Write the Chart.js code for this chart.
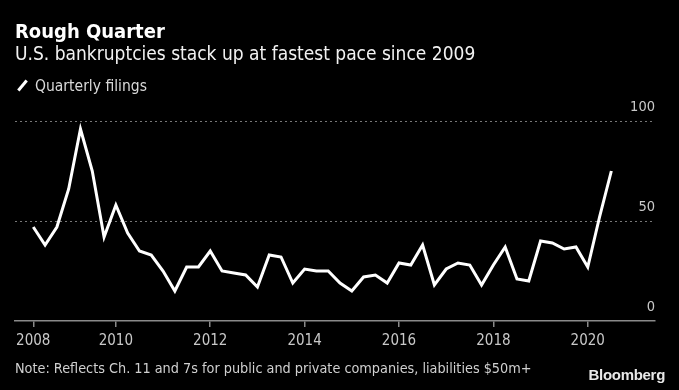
<!DOCTYPE html>
<html>
<head>
<meta charset="utf-8">
<script src="https://cdn.jsdelivr.net/npm/chart.js@4"></script>
<style>
  html, body {
    margin: 0;
    padding: 0;
    background: #000;
  }
  .wrap {
    position: relative;
    width: 679px;
    height: 390px;
    background: #000;
    overflow: hidden;
    font-family: "DejaVu Sans Condensed", "DejaVu Sans", sans-serif;
  }
  .wrap canvas {
    position: absolute;
    left: 0;
    top: 0;
  }
  .title {
    position: absolute;
    left: 15px;
    top: 19px;
    font-size: 20px;
    font-weight: bold;
    color: #fff;
  }
  .subtitle {
    position: absolute;
    left: 15px;
    top: 42px;
    font-size: 19px;
    color: #f2f2f2;
  }
  .legend {
    position: absolute;
    left: 16px;
    top: 77px;
    font-size: 15.5px;
    color: #d9d9d9;
  }
  .legend .swatch {
    display: inline-block;
    width: 3px;
    height: 13px;
    background: #fff;
    transform: rotate(40deg);
    margin: 0 11px 0 5px;
    vertical-align: -1px;
  }
  .note {
    position: absolute;
    left: 15px;
    top: 360px;
    font-size: 14.3px;
    color: #d0d0d0;
  }
  .brand {
    position: absolute;
    right: 14px;
    top: 366px;
    font-family: "Liberation Sans", Arial, sans-serif;
    font-size: 15px;
    font-weight: bold;
    color: #e8e8e8;
    letter-spacing: -0.3px;
  }
</style>
</head>
<body>
<div class="wrap">
  <canvas id="chart" width="679" height="390"></canvas>
  <div class="title">Rough Quarter</div>
  <div class="subtitle">U.S. bankruptcies stack up at fastest pace since 2009</div>
  <div class="legend"><span class="swatch"></span>Quarterly filings</div>
  <div class="note">Note: Reflects Ch. 11 and 7s for public and private companies, liabilities $50m+</div>
  <div class="brand">Bloomberg</div>
</div>
<script>
// quarterly filings, 2008 Q1 .. 2020 Q2
const filings = [
  47, 38, 47, 66, 96, 75, 42, 58,   // 2008-2009
  44, 35, 33, 25, 15, 27, 27, 35,   // 2010-2011
  25, 24, 23, 17, 33, 32, 19, 26,   // 2012-2013
  25, 25, 19, 15, 22, 23, 19, 29,   // 2014-2015
  28, 38, 18, 26, 29, 28, 18, 28,   // 2016-2017
  37, 21, 20, 40, 39, 36, 37, 27,   // 2018-2019
  52, 75                            // 2020
];

// year ticks sit at quarter positions
const yearTickPos = [0, 7, 15, 23, 31, 39, 47];
const yearTickLabels = ['2008', '2010', '2012', '2014', '2016', '2018', '2020'];

const yTicks = [0, 50, 100];

const gridGray = '#8a8a8a';
const labelGray = '#c8c8c8';
const fontFamily = '"DejaVu Sans Condensed", "DejaVu Sans", sans-serif';

const ctx = document.getElementById('chart').getContext('2d');

new Chart(ctx, {
  type: 'line',
  data: {
    datasets: [{
      label: 'Quarterly filings',
      data: filings.map((v, i) => ({ x: i, y: v })),
      borderColor: '#ffffff',
      borderWidth: 3,
      pointRadius: 0,
      tension: 0,
      fill: false,
      borderJoinStyle: 'miter'
    }]
  },
  options: {
    responsive: false,
    animation: false,
    events: [],
    layout: {
      padding: { left: 15, right: 24, top: 121, bottom: 39 }
    },
    plugins: {
      legend: { display: false },
      tooltip: { enabled: false }
    },
    scales: {
      x: {
        type: 'linear',
        min: -1.55,
        max: 52.7,
        afterBuildTicks: (scale) => {
          scale.ticks = yearTickPos.map(v => ({ value: v }));
        },
        afterFit: (scale) => {
          scale.height = 30;
        },
        grid: {
          drawOnChartArea: false,
          drawTicks: true,
          tickLength: 6,
          color: gridGray,
          lineWidth: 1.5
        },
        border: {
          display: true,
          color: gridGray,
          width: 1.5
        },
        ticks: {
          autoSkip: false,
          maxRotation: 0,
          padding: 5,
          color: labelGray,
          font: { family: fontFamily, size: 15 },
          callback: (value) => {
            const i = yearTickPos.indexOf(value);
            return i >= 0 ? yearTickLabels[i] : '';
          }
        }
      },
      y: {
        position: 'right',
        min: 0,
        max: 100,
        afterBuildTicks: (scale) => {
          scale.ticks = yTicks.map(v => ({ value: v }));
        },
        grid: {
          drawTicks: false,
          color: (c) => c.tick && c.tick.value === 0 ? 'rgba(0,0,0,0)' : '#777',
          lineWidth: 1
        },
        border: {
          display: false,
          dash: [2, 3]
        },
        ticks: {
          mirror: true,
          padding: 0,
          labelOffset: -14,
          color: labelGray,
          font: { family: fontFamily, size: 14.5 }
        }
      }
    }
  }
});
</script>
</body>
</html>
